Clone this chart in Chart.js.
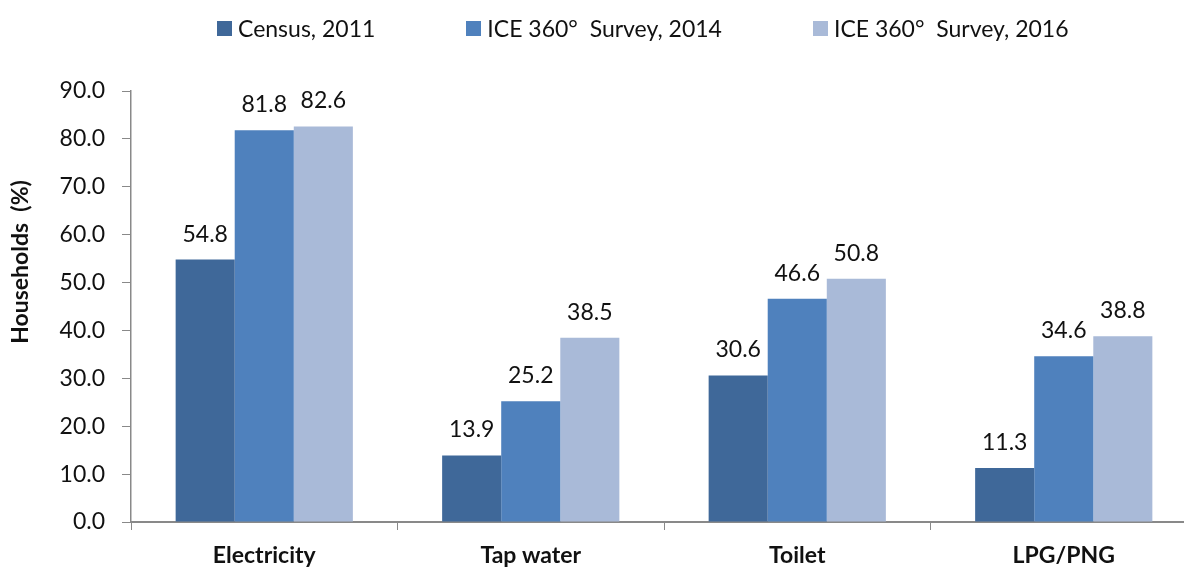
<!DOCTYPE html>
<html>
<head>
<meta charset="utf-8">
<script src="https://cdn.jsdelivr.net/npm/chart.js@4"></script>
<style>
  html, body { margin: 0; padding: 0; background: #fff; overflow: hidden; }
  #wrap { width: 1200px; height: 569px; position: relative; }
  #legend {
    position: absolute; left: 217px; top: 14px;
    display: flex; align-items: center;
    font: 23px Lato, "Open Sans", sans-serif; color: #111;
    white-space: pre;
  }
  #legend .item { display: flex; align-items: center; margin-right: 91px; }
  #legend .box { width: 15px; height: 15px; margin-right: 6px; }
</style>
</head>
<body>
<div id="wrap"><div id="legend"></div><canvas id="c"></canvas></div>
<script>
const categories = ['Electricity', 'Tap water', 'Toilet', 'LPG/PNG'];
const seriesNames = ['Census, 2011', 'ICE 360°  Survey, 2014', 'ICE 360°  Survey, 2016'];
const census2011 = [54.8, 13.9, 30.6, 11.3];
const survey2014 = [81.8, 25.2, 46.6, 34.6];
const survey2016 = [82.6, 38.5, 50.8, 38.8];
const yTicks = [0, 10, 20, 30, 40, 50, 60, 70, 80, 90];
const yTitle = 'Households  (%)';

const colors = ['#3F6899', '#4F81BD', '#A9BAD8'];
const FONT = 'Lato, "Open Sans", sans-serif';

// Value printed above every bar
const valueLabels = {
  id: 'valueLabels',
  afterDatasetsDraw(chart) {
    const ctx = chart.ctx;
    ctx.save();
    ctx.font = '23px ' + FONT;
    ctx.fillStyle = '#111';
    ctx.textAlign = 'center';
    ctx.textBaseline = 'alphabetic';
    chart.data.datasets.forEach((ds, i) => {
      chart.getDatasetMeta(i).data.forEach((bar, j) => {
        ctx.fillText(ds.data[j].toFixed(1), bar.x, bar.y - 18);
      });
    });
    ctx.restore();
  }
};

// Rotated title beside the value axis
const axisTitle = {
  id: 'axisTitle',
  afterDraw(chart) {
    const ctx = chart.ctx;
    ctx.save();
    ctx.translate(21, 262);
    ctx.rotate(-Math.PI / 2);
    ctx.font = 'bold 23px ' + FONT;
    ctx.fillStyle = '#111';
    ctx.textAlign = 'center';
    ctx.textBaseline = 'middle';
    ctx.fillText(yTitle, 0, 0);
    ctx.restore();
  }
};

// Legend entries built as HTML from the datasets
const htmlLegend = {
  id: 'htmlLegend',
  afterUpdate(chart) {
    const box = document.getElementById('legend');
    box.innerHTML = '';
    chart.data.datasets.forEach(ds => {
      const item = document.createElement('div');
      item.className = 'item';
      const sw = document.createElement('span');
      sw.className = 'box';
      sw.style.background = ds.backgroundColor;
      const tx = document.createElement('span');
      tx.textContent = ds.label;
      item.appendChild(sw);
      item.appendChild(tx);
      box.appendChild(item);
    });
  }
};

new Chart(document.getElementById('c'), {
  type: 'bar',
  data: {
    labels: categories,
    datasets: [census2011, survey2014, survey2016].map((d, i) => ({
      label: seriesNames[i],
      data: d,
      backgroundColor: colors[i],
      borderWidth: 0,
      categoryPercentage: 0.665,
      barPercentage: 1.0
    }))
  },
  plugins: [valueLabels, axisTitle, htmlLegend],
  options: {
    responsive: true,
    maintainAspectRatio: false,
    animation: false,
    layout: { padding: { left: 0, right: 3, top: 91, bottom: 0 } },
    plugins: {
      tooltip: { enabled: false },
      legend: { display: false }
    },
    scales: {
      x: {
        afterFit(scale) { scale.height = 47; },
        grid: {
          offset: true,
          drawOnChartArea: false,
          drawTicks: true,
          tickLength: 8,
          color: '#898989'
        },
        border: { color: '#898989', width: 2 },
        ticks: {
          font: { family: FONT, size: 23, weight: 'bold' },
          color: '#111',
          padding: 12
        }
      },
      y: {
        min: 0,
        max: 90,
        afterBuildTicks(scale) {
          scale.ticks = yTicks.map(v => ({ value: v }));
        },
        afterFit(scale) { scale.width = 131; },
        grid: {
          drawOnChartArea: false,
          drawTicks: true,
          tickLength: 9,
          color: '#898989'
        },
        border: { color: '#898989', width: 1.5 },
        ticks: {
          font: { family: FONT, size: 23 },
          color: '#111',
          padding: 17,
          callback: v => Number(v).toFixed(1)
        }
      }
    }
  }
});
</script>
</body>
</html>
